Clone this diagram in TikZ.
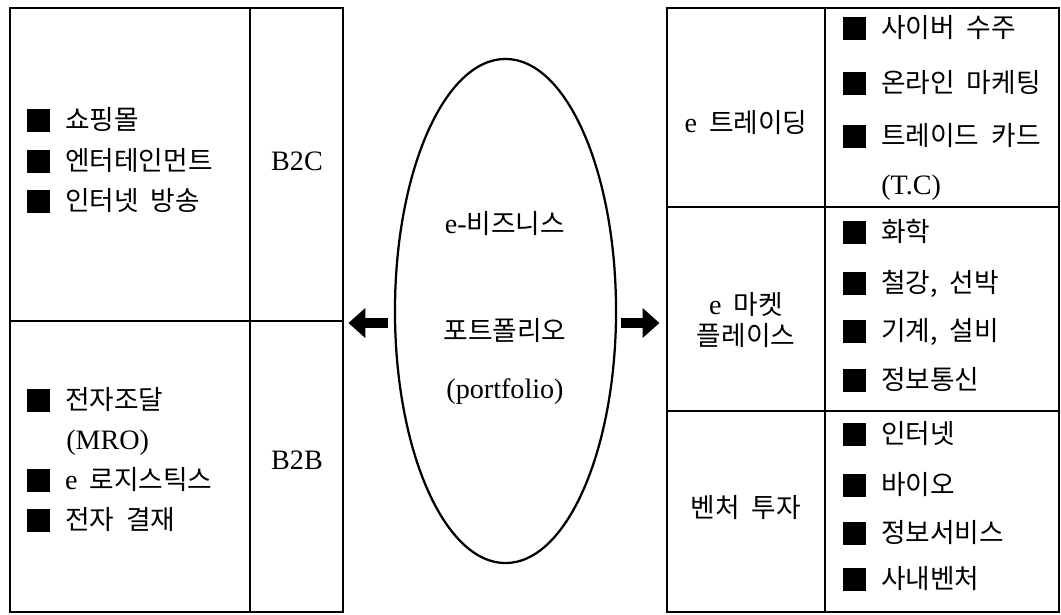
\documentclass[tikz,border=0pt]{standalone}
\usepackage{fontspec}
\setmainfont{Liberation Serif}
\newfontfamily\kr[Scale=0.95,WordSpace=2]{Noto Sans CJK KR}
\usetikzlibrary{shapes.geometric,arrows.meta}
\newcommand{\sz}{\fontsize{20}{24}\selectfont}
\newcommand{\blk}{\rule[-0.08em]{0.86em}{0.86em}\hspace{0.56em}}
\tikzset{
  frame/.style={draw,line width=1.6pt,inner sep=0pt},
  gridline/.style={line width=1.1pt},
  item/.style={anchor=west,inner sep=0pt,font=\sz\kr,text height=0.8em,text depth=0.12em},
  cell/.style={inner sep=0pt,font=\sz\kr,text height=0.8em,text depth=0.12em},
  blockarr/.style={line width=7.8pt,-{Triangle[length=12pt,width=20.5pt]}}
}
\begin{document}
\begin{tikzpicture}[x=0.025cm,y=-0.025cm]
        \useasboundingbox (0,0) rectangle (1061,614);
        %riquadro sinistro
        \node[frame,minimum width=8.325cm,minimum height=15.1cm] (lbox) at (176.5,310) {};
        \draw[gridline] (250,8)--(250,612);
        \draw[gridline] (10,321)--(343,321);
        %voci B2C
        \node[item] (c1) at (27,125) {\blk 쇼핑몰};
        \node[item] (c2) at (27,166) {\blk 엔터테인먼트};
        \node[item] (c3) at (27,206) {\blk 인터넷 방송};
        \node[cell] (b2c) at (297,166) {\textrm{B2C}};
        %voci B2B
        \node[item] (b1) at (27,405) {\blk 전자조달};
        \node[item] (b2) at (66,445) {\textrm{(MRO)}};
        \node[item] (b3) at (27,485) {\blk\textrm{e} 로지스틱스};
        \node[item] (b4) at (27,525) {\blk 전자 결재};
        \node[cell] (b2b) at (297,465) {\textrm{B2B}};
        %ellisse centrale
        \node[ellipse,draw,line width=1.6pt,inner sep=0pt,minimum width=5.525cm,minimum height=12.6cm] (port) at (505.5,311) {};
        \node[cell] (t1) at (505,229) {\textrm{e-}비즈니스};
        \node[cell] (t2) at (505,336) {포트폴리오};
        \node[cell] (t3) at (505,394) {\textrm{(portfolio)}};
        %riquadro destro
        \node[frame,minimum width=9.8cm,minimum height=15.1cm] (rbox) at (863,310) {};
        \draw[gridline] (825,8)--(825,612);
        \draw[gridline] (667,207)--(1059,207);
        \draw[gridline] (667,411)--(1059,411);
        %e trading
        \node[cell] (tr) at (746,128) {\textrm{e} 트레이딩};
        \node[item] (tr1) at (843,33) {\blk 사이버 수주};
        \node[item] (tr2) at (843,88) {\blk 온라인 마케팅};
        \node[item] (tr3) at (843,141) {\blk 트레이드 카드};
        \node[item] (tr4) at (881,190) {\textrm{(T.C)}};
        %e marketplace
        \node[cell] (mp1) at (746,310) {\textrm{e} 마켓};
        \node[cell] (mp2) at (746,341) {플레이스};
        \node[item] (mp3) at (843,237) {\blk 화학};
        \node[item] (mp4) at (843,288) {\blk 철강, 선박};
        \node[item] (mp5) at (843,336) {\blk 기계, 설비};
        \node[item] (mp6) at (843,385) {\blk 정보통신};
        %venture
        \node[cell] (vc) at (746,513) {벤처 투자};
        \node[item] (vc1) at (843,439) {\blk 인터넷};
        \node[item] (vc2) at (843,490) {\blk 바이오};
        \node[item] (vc3) at (843,538) {\blk 정보서비스};
        \node[item] (vc4) at (843,584) {\blk 사내벤처};
        %frecce
        \coordinate (mid) at (505,323);
        \draw[blockarr,shorten <=4.5pt,shorten >=3pt] (port.west |- mid)--(lbox.east |- mid);
        \draw[blockarr,shorten <=3pt,shorten >=4.5pt] (port.east |- mid)--(rbox.west |- mid);
\end{tikzpicture}
\end{document}
